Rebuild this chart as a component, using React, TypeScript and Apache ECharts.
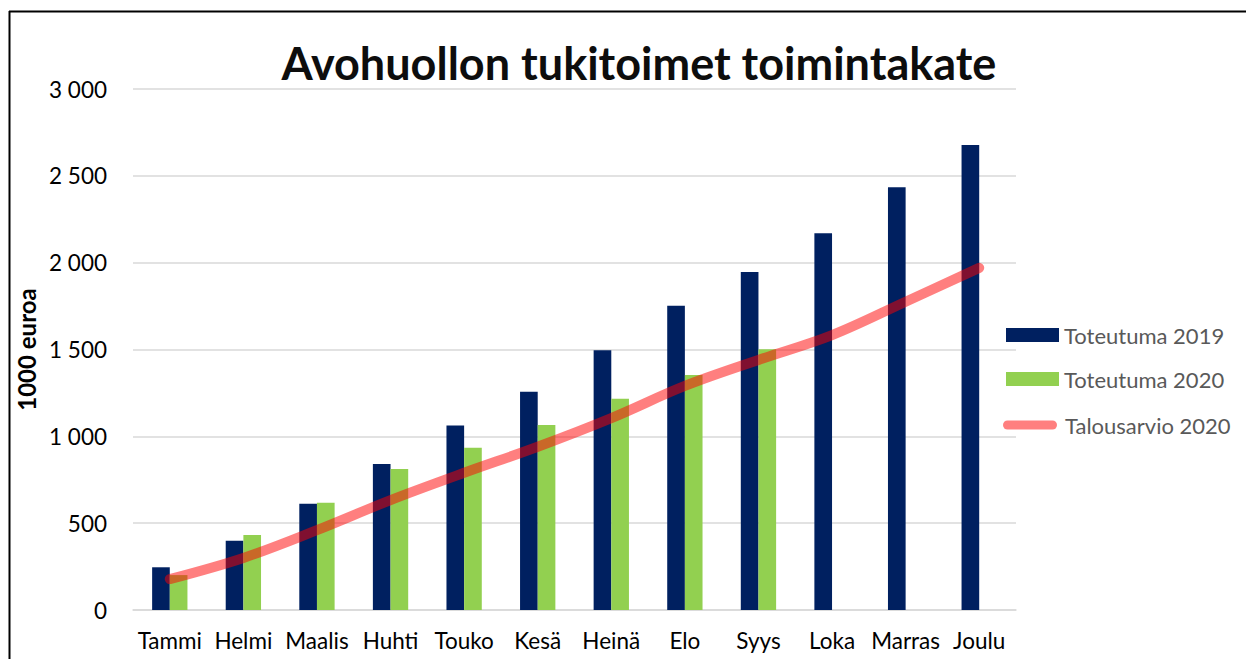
import React, { useEffect, useRef } from "react";
import * as echarts from "echarts";

const months = ["Tammi", "Helmi", "Maalis", "Huhti", "Touko", "Kesä", "Heinä", "Elo", "Syys", "Loka", "Marras", "Joulu"];
const toteutuma2019 = [246, 399, 612, 840, 1063, 1257, 1495, 1752, 1946, 2169, 2434, 2677];
const toteutuma2020 = [201, 432, 618, 812, 934, 1065, 1216, 1353, 1501, null, null, null];
const talousarvio2020 = [178, 300, 460, 633, 790, 940, 1105, 1290, 1440, 1583, 1775, 1970];
const yTicks = [0, 500, 1000, 1500, 2000, 2500, 3000];

const FONT = "Lato, 'Noto Sans', sans-serif";
const PILL = "path://M5,0 L55,0 A5,5 0 0 1 55,10 L5,10 A5,5 0 0 1 5,0 Z";

export default function App() {
  const ref = useRef<HTMLDivElement>(null);
  useEffect(() => {
    const chart = echarts.init(ref.current!, undefined, { renderer: "svg" });
    const legendText = { fontFamily: FONT, fontSize: 22, color: "#595959" };
    chart.setOption({
      animation: false,
      backgroundColor: "#ffffff",
      textStyle: { fontFamily: FONT },
      title: {
        text: "Avohuollon tukitoimet toimintakate",
        left: 634,
        top: 35,
        textAlign: "center",
        textStyle: { fontFamily: FONT, fontSize: 45, fontWeight: "bold", color: "#0d0d0d" },
      },
      grid: { left: 133, right: 230, top: 89, bottom: 49, containLabel: false },
      legend: [
        {
          orient: "vertical",
          left: 1001,
          top: 319,
          itemWidth: 53,
          itemHeight: 14,
          itemGap: 22,
          textStyle: legendText,
          data: [
            { name: "Toteutuma 2019", icon: "rect" },
            { name: "Toteutuma 2020", icon: "rect" },
          ],
        },
        {
          orient: "vertical",
          left: 998,
          top: 409,
          itemWidth: 60,
          itemHeight: 9,
          itemGap: 0,
          textStyle: legendText,
          data: [{ name: "Talousarvio 2020", icon: PILL, itemStyle: { color: "rgba(255,0,0,0.5)" } }],
        },
      ],
      xAxis: {
        type: "category",
        data: months,
        axisLine: { show: true, lineStyle: { color: "#D9D9D9", width: 1.5 } },
        axisTick: { show: false },
        axisLabel: { color: "#000000", fontSize: 22.5, fontFamily: FONT, margin: 19, interval: 0 },
      },
      yAxis: {
        type: "value",
        min: yTicks[0],
        max: yTicks[yTicks.length - 1],
        interval: 500,
        name: "1000 euroa",
        nameLocation: "middle",
        nameGap: 90,
        nameRotate: 90,
        nameTextStyle: { fontFamily: FONT, fontSize: 24, fontWeight: "bold", color: "#000000" },
        axisLine: { show: false },
        axisTick: { show: false },
        splitLine: { lineStyle: { color: "#D9D9D9", width: 1.5 } },
        axisLabel: {
          color: "#000000",
          fontSize: 22.5,
          fontFamily: FONT,
          margin: 26,
          formatter: (v: number) => String(v).replace(/\B(?=(\d{3})+(?!\d))/g, " "),
        },
      },
      series: [
        {
          name: "Toteutuma 2019",
          type: "bar",
          data: toteutuma2019,
          itemStyle: { color: "#002060" },
          barGap: "0%",
          barCategoryGap: "52%",
        },
        {
          name: "Toteutuma 2020",
          type: "bar",
          data: toteutuma2020,
          itemStyle: { color: "#92D050" },
          barGap: "0%",
          barCategoryGap: "52%",
        },
        {
          name: "Talousarvio 2020",
          type: "line",
          data: talousarvio2020,
          smooth: 0.35,
          symbol: "none",
          itemStyle: { color: "rgba(255,0,0,0.5)" },
          lineStyle: { color: "rgba(255,0,0,0.5)", width: 10, cap: "round", join: "round" },
        },
      ],
      graphic: [
        { type: "line", shape: { x1: 9, y1: 11.5, x2: 1246, y2: 11.5 }, style: { stroke: "#000", lineWidth: 2 } },
        { type: "line", shape: { x1: 9.5, y1: 11, x2: 9.5, y2: 659 }, style: { stroke: "#000", lineWidth: 2 } },
      ],
    });
    return () => chart.dispose();
  }, []);
  return (
    <div
      ref={ref}
      style={{ position: "fixed", left: 0, top: 0, width: 1246, height: 659, background: "#fff" }}
    />
  );
}
